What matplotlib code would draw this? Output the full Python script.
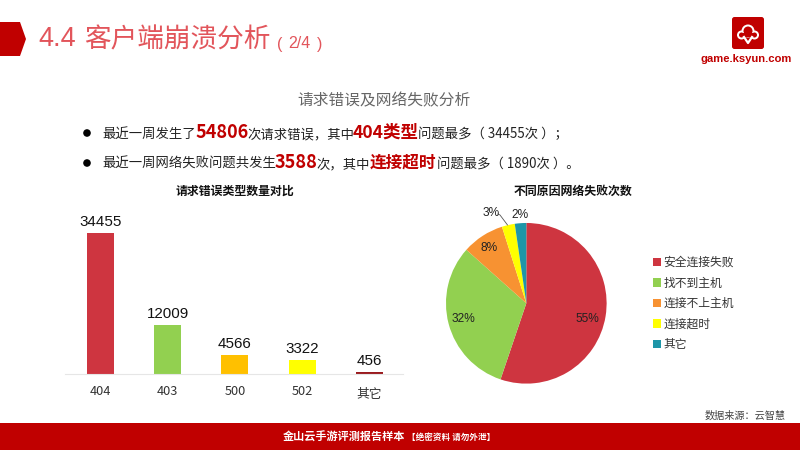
"""
Slide: client crash analysis, request errors and network failures.
"""

import matplotlib
matplotlib.use("Agg")
import matplotlib.pyplot as plt
from matplotlib.patches import Circle, FancyBboxPatch, Polygon, Rectangle

plt.rcParams["font.family"] = ["Noto Sans CJK SC", "DejaVu Sans"]

W, H = 800, 450
RED = "#C00000"
LATIN = "Liberation Sans"

BAR_CATEGORIES = ["404", "403", "500", "502", "其它"]
BAR_VALUES = [34455, 12009, 4566, 3322, 456]
BAR_COLORS = ["#CE3540", "#92D050", "#FFC000", "#FFFF00", "#9A1B1F"]

PIE_NAMES = ["安全连接失败", "找不到主机", "连接不上主机", "连接超时", "其它"]
PIE_VALUES = [55.2, 31.4, 8.5, 2.6, 2.3]
PIE_LABELS = ["55%", "32%", "8%", "3%", "2%"]
PIE_COLORS = ["#CE3540", "#92D050", "#F79232", "#FFFF00", "#1E96A8"]


def px_axes(left, top, right, bottom):
    """Axes placed by pixel box, y measured from the top of the slide."""
    return fig.add_axes([left / W, 1 - bottom / H, (right - left) / W, (bottom - top) / H])


fig = plt.figure(figsize=(8, 4.5), dpi=100, facecolor="white")

# =========================================================
# OVERLAY IN PIXEL COORDINATES
# =========================================================

bg = fig.add_axes([0, 0, 1, 1])
bg.set_xlim(0, W)
bg.set_ylim(H, 0)
bg.axis("off")


def label(x, y, s, size, color="#222222", weight="normal", ha="left", family=None):
    bg.text(x, y, s, fontsize=size, color=color, fontweight=weight, ha=ha, va="center",
            family=family or plt.rcParams["font.family"])


bg.add_patch(Polygon([(0, 22), (20, 22), (26, 39), (20, 56), (0, 56)], color=RED, lw=0))
bg.add_patch(Rectangle((0, 423), W, 27, color=RED, lw=0))

label(38.5, 39.5, "4.4", 19.5, "#E2555B", family=LATIN)
label(84, 39.5, "客户端崩溃分析", 19.2, "#E2555B")
label(277, 44, "(", 11.5, "#E2555B", family=LATIN)
label(288, 44, "2/4", 11.5, "#E2555B", family=LATIN)
label(317, 44, ")", 11.5, "#E2555B", family=LATIN)

# logo
bg.add_patch(FancyBboxPatch((732, 17), 32, 32, boxstyle="round,pad=0,rounding_size=2.5", color=RED, lw=0))
for cx, cy, r in [(741.5, 35, 4.5), (748, 31, 6.5), (754.5, 35, 4.5)]:
    bg.add_patch(Circle((cx, cy), r, color="white", lw=0, zorder=3))
for cx, cy, r in [(741.5, 35, 2.5), (748, 31, 4.5), (754.5, 35, 2.5)]:
    bg.add_patch(Circle((cx, cy), r, color=RED, lw=0, zorder=4))
bg.add_patch(Rectangle((740, 33), 16, 3.5, color=RED, lw=0, zorder=4))
bg.plot([744, 748, 752], [37, 43, 37], color="white", lw=1.6, zorder=5)
label(746, 59, "game.ksyun.com", 8.1, RED, "bold", ha="center", family=LATIN)

label(384, 100.5, "请求错误及网络失败分析", 11.3, "#666666", ha="center")

for y in (133, 163):
    bg.add_patch(Circle((87, y), 3.8, color="black", lw=0))

# summary lines, highlighted runs are larger
label(102, 134, "最近一周发生了", 9.6)
label(195, 132.5, "54806", 13, RED, "bold")
label(247, 134, "次请求错误，其中", 9.6)
label(353, 132.5, "404类型", 12.6, RED, "bold")
label(418, 134, "问题最多（ 34455次 ）；", 9.6)

label(102, 164, "最近一周网络失败问题共发生", 9.6)
label(275, 162.5, "3588", 13, RED, "bold")
label(316, 164, "次，其中", 9.6)
label(370, 162.5, "连接超时", 12, RED, "bold")
label(437, 164, "问题最多（ 1890次 ）。", 9.6)

label(234.5, 191, "请求错误类型数量对比", 8.6, "#111111", "bold", ha="center")
label(573.5, 191, "不同原因网络失败次数", 8.6, "#111111", "bold", ha="center")

label(786, 416, "数据来源：云智慧", 7.3, "#444444", ha="right")
label(283, 437.5, "金山云手游评测报告样本", 8, "white", "bold")
label(407, 437.5, "【绝密资料 请勿外泄】", 6.2, "white", "bold")

# =========================================================
# BAR CHART
# =========================================================

ax = px_axes(65, 200, 403, 373.7)
x_pos = list(range(len(BAR_CATEGORIES)))
bars = ax.bar(x_pos, BAR_VALUES, width=0.40, color=BAR_COLORS)
ax.bar_label(bars, labels=[str(v) for v in BAR_VALUES], fontsize=10.9, color="#111111",
             padding=3, family=LATIN)
ax.set_xlim(-0.528, 4.5)
ax.set_ylim(0, 42570)
ax.set_xticks(x_pos, BAR_CATEGORIES, fontsize=9.2, color="#333333")
ax.tick_params(axis="x", length=0, pad=8)
ax.xaxis.get_major_ticks()[-1].set_pad(10)
ax.set_yticks([])
for side in ("top", "left", "right"):
    ax.spines[side].set_visible(False)
ax.spines["bottom"].set_color("#E6E6E6")
ax.patch.set_alpha(0)

# =========================================================
# PIE CHART
# =========================================================

pie_ax = px_axes(526.3 - 100, 303.3 - 100, 526.3 + 100, 303.3 + 100)
wedges, _ = pie_ax.pie(PIE_VALUES, colors=PIE_COLORS, startangle=90, counterclock=False, radius=1)
pie_ax.set_xlim(-1.245, 1.245)
pie_ax.set_ylim(-1.245, 1.245)

# label spots on the slide, same order as PIE_LABELS
label_spots = [(587.7, 319), (463.7, 319.5), (489.3, 248), (491, 213), (519.5, 215)]
for s, (lx, ly) in zip(PIE_LABELS, label_spots):
    label(lx, ly, s, 8.6, "#222222", ha="center", family=LATIN)
bg.plot([498, 500, 507.5], [214, 215, 225], color="#555555", lw=0.6)
bg.set_zorder(3)

leg = pie_ax.legend(wedges, PIE_NAMES, loc="center left", bbox_to_anchor=(652.7 / W, 1 - 303.5 / H),
                    bbox_transform=fig.transFigure, frameon=False, fontsize=8.5,
                    handlelength=0.72, handleheight=0.72, handletextpad=0.2,
                    labelspacing=0.63, borderpad=0, borderaxespad=0)
for t in leg.get_texts():
    t.set_color("#333333")

fig.savefig("out.png", dpi=100)
plt.close(fig)
